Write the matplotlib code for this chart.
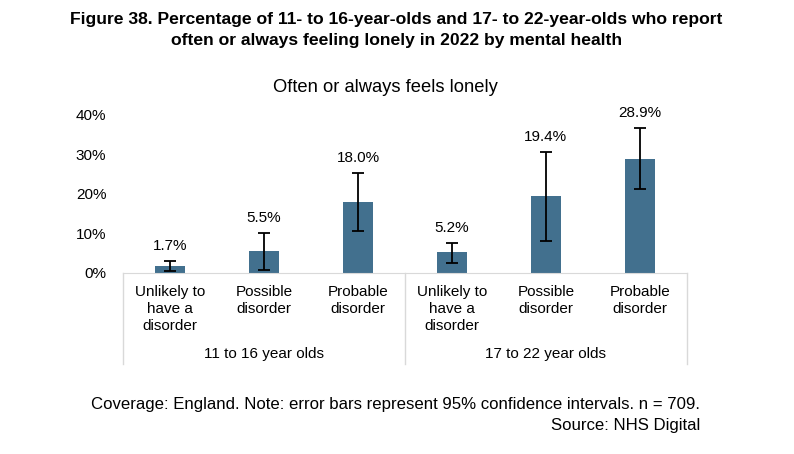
import numpy as np
import matplotlib.pyplot as plt
from matplotlib.ticker import FuncFormatter

plt.rcParams['font.family'] = ['Liberation Sans', 'DejaVu Sans']

groups = ['11 to 16 year olds', '17 to 22 year olds']
categories = ['Unlikely to\nhave a\ndisorder', 'Possible\ndisorder', 'Probable\ndisorder'] * 2
values = [1.7, 5.5, 18.0, 5.2, 19.4, 28.9]
ci_low = [0.4, 0.7, 10.5, 2.4, 8.1, 21.2]
ci_high = [2.9, 10.0, 25.2, 7.5, 30.5, 36.6]
yticks = [0, 10, 20, 30, 40]

bar_color = '#42708E'
grid_color = '#D9D9D9'

fig = plt.figure(figsize=(7.94, 4.54), dpi=100)
ax = fig.add_axes([0.155, 0.399, 0.71, 0.348])

x = np.arange(len(values))
vals = np.array(values)
err = [vals - np.array(ci_low), np.array(ci_high) - vals]
ax.bar(x, vals, width=0.32, color=bar_color, zorder=2)
ax.errorbar(x, vals, yerr=err, fmt='none', ecolor='black', elinewidth=1.3,
            capsize=4, capthick=1.3, zorder=3)

for xi, v, hi in zip(x, values, ci_high):
    ax.annotate(f'{v:.1f}%', (xi, hi), xytext=(0, 6), textcoords='offset points',
                ha='center', va='bottom', fontsize=11)

ax.set_xlim(-0.5, len(values) - 0.5)
ax.set_ylim(0, 40)
ax.set_yticks(yticks)
ax.yaxis.set_major_formatter(FuncFormatter(lambda v, p: f'{v:.0f}%'))
ax.tick_params(axis='y', length=0, labelsize=11, pad=12)
ax.set_xticks([])
for s in ['top', 'right', 'left']:
    ax.spines[s].set_visible(False)
ax.spines['bottom'].set_color(grid_color)

# category labels and group boxes below the axis
box_bottom = -0.576
for xi, lab in zip(x, categories):
    ax.text(xi, -0.075, lab, transform=ax.get_xaxis_transform(), ha='center', va='top',
            fontsize=11, linespacing=1.3)
n = len(categories) // len(groups)
for gi, g in enumerate(groups):
    ax.text(gi * n + (n - 1) / 2, -0.513, g, transform=ax.get_xaxis_transform(),
            ha='center', va='center', fontsize=11)
for b in [-0.5, n - 0.5, len(values) - 0.5]:
    ax.plot([b, b], [0, box_bottom], transform=ax.get_xaxis_transform(),
            color=grid_color, lw=1, clip_on=False)

fig.text(0.499, 0.933, 'Figure 38. Percentage of 11- to 16-year-olds and 17- to 22-year-olds who report\n'
         'often or always feeling lonely in 2022 by mental health',
         ha='center', va='center', fontsize=12.6, fontweight='bold', linespacing=1.5)
fig.text(0.486, 0.808, 'Often or always feels lonely', ha='center', va='center', fontsize=13.2)
fig.text(0.882, 0.108, 'Coverage: England. Note: error bars represent 95% confidence intervals. n = 709.',
         ha='right', va='center', fontsize=12.1)
fig.text(0.882, 0.062, 'Source: NHS Digital', ha='right', va='center', fontsize=12.1)

fig.savefig('out.png', dpi=100)
